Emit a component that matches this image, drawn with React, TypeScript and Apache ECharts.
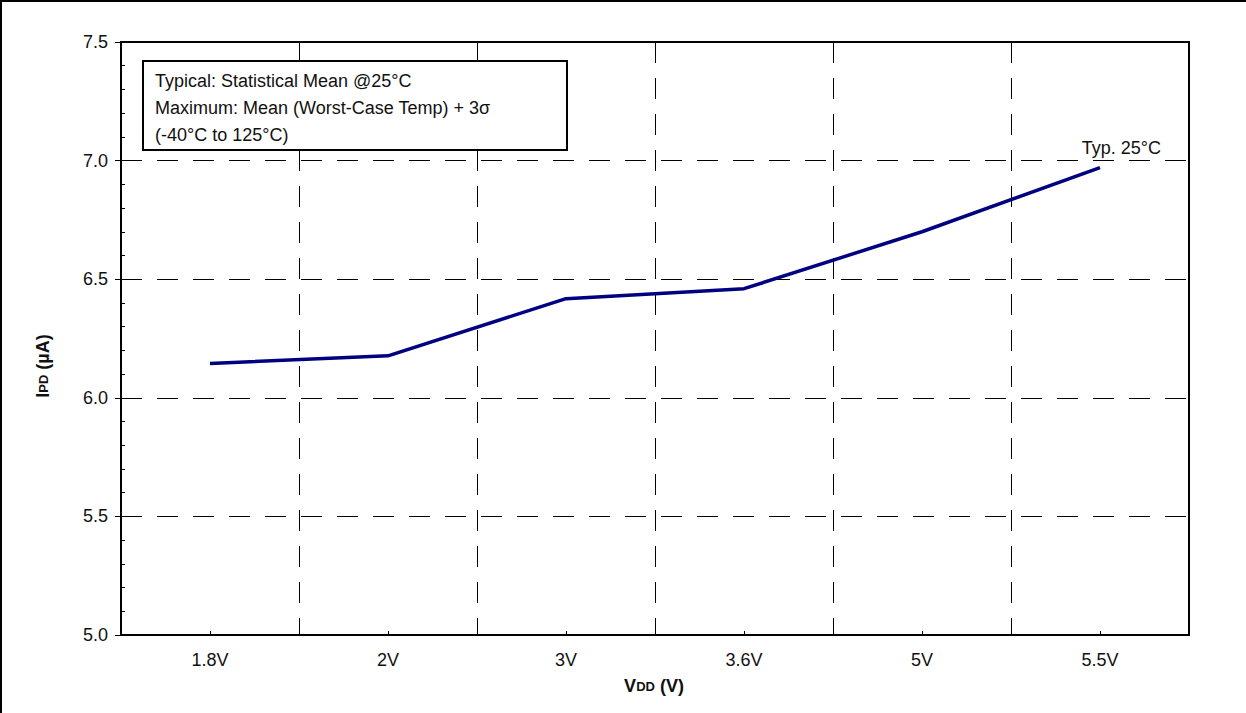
import React, { useEffect, useRef } from "react";
import * as echarts from "echarts";

const categories = ["1.8V", "2V", "3V", "3.6V", "5V", "5.5V"];
const typValues = [6.145, 6.177, 6.418, 6.46, 6.70, 6.97];
const yMin = 5.0;
const yMax = 7.5;
const yInterval = 0.5;
const noteLines = [
  "Typical: Statistical Mean @25°C",
  "Maximum: Mean (Worst-Case Temp) + 3σ",
  "(-40°C to 125°C)",
];
const seriesLabel = "Typ. 25°C";

const FONT = "Liberation Sans, Arial, sans-serif";
const dash = [21, 15];
const TXT = "#111";

export default function App() {
  const ref = useRef<HTMLDivElement>(null);
  useEffect(() => {
    if (!ref.current) return;
    const chart = echarts.init(ref.current, null, { renderer: "svg" });
    const rich = {
      a: { fontSize: 18, fontWeight: "bold", fontFamily: FONT, fill: TXT, color: TXT },
      b: { fontSize: 13, fontWeight: "bold", fontFamily: FONT, fill: TXT, color: TXT },
    };
    chart.setOption({
      animation: false,
      backgroundColor: "#fff",
      textStyle: { fontFamily: FONT },
      grid: {
        left: 121,
        top: 42,
        width: 1068,
        height: 593,
        show: true,
        borderColor: "#000",
        borderWidth: 2,
        backgroundColor: "transparent",
        z: 10,
      },
      xAxis: {
        type: "category",
        data: categories,
        boundaryGap: true,
        axisLine: { show: true, lineStyle: { color: "#000", width: 2 } },
        axisTick: { show: true, inside: true, length: 4, alignWithLabel: true, lineStyle: { color: "#000", width: 1 } },
        axisLabel: { color: TXT, fontSize: 18, fontFamily: FONT, margin: 16 },
        splitLine: { show: true, showMinLine: false, showMaxLine: false, lineStyle: { color: "#000", width: 1, type: dash } },
      },
      yAxis: [
        {
          type: "value",
          min: yMin,
          max: yMax,
          interval: yInterval,
          position: "left",
          axisLine: { show: true, lineStyle: { color: "#000", width: 2 } },
          axisTick: { show: true, inside: false, length: 6, lineStyle: { color: "#000", width: 1 } },
          axisLabel: { color: TXT, fontSize: 18, fontFamily: FONT, margin: 13, formatter: (v: number) => v.toFixed(1) },
          splitLine: { show: true, showMinLine: false, showMaxLine: false, lineStyle: { color: "#000", width: 1, type: dash } },
        },
        {
          type: "value",
          min: yMin,
          max: yMax,
          interval: 0.1,
          position: "left",
          axisLine: { show: false },
          axisTick: { show: true, inside: true, length: 4, lineStyle: { color: "#000", width: 1 } },
          axisLabel: { show: false },
          splitLine: { show: false },
        },
      ],
      series: [
        {
          type: "line",
          data: typValues,
          yAxisIndex: 0,
          symbol: "none",
          lineStyle: { color: "#000080", width: 3.5 },
          itemStyle: { color: "#000080" },
          z: 3,
        },
      ],
      graphic: [
        { type: "line", shape: { x1: 0, y1: 1, x2: 1246, y2: 1 }, style: { stroke: "#000", lineWidth: 2 }, z: 100 },
        { type: "line", shape: { x1: 1, y1: 0, x2: 1, y2: 713 }, style: { stroke: "#000", lineWidth: 2 }, z: 100 },
        {
          type: "rect",
          shape: { x: 143, y: 61, width: 424, height: 89 },
          style: { fill: "#fff", stroke: "#000", lineWidth: 2 },
          z: 50,
        },
        ...noteLines.map((t, i) => ({
          type: "text",
          x: 155,
          y: 81 + i * 27,
          z: 51,
          style: {
            text: t,
            fill: TXT,
            fontSize: 18,
            fontFamily: FONT,
            verticalAlign: "middle",
            align: "left",
          },
        })),
        {
          type: "text",
          x: 1161,
          y: 148,
          z: 51,
          style: {
            text: seriesLabel,
            fill: TXT,
            fontSize: 18,
            fontFamily: FONT,
            align: "right",
            verticalAlign: "middle",
          },
        },
        {
          type: "text",
          x: 654,
          y: 686,
          z: 51,
          style: {
            text: "{a|V}{b|DD}{a| (V)}",
            align: "center",
            verticalAlign: "middle",
            rich,
          },
        },
        {
          type: "text",
          x: 43,
          y: 366,
          rotation: Math.PI / 2,
          z: 51,
          style: {
            text: "{a|I}{b|PD}{a| (µA)}",
            align: "center",
            verticalAlign: "middle",
            rich,
          },
        },
      ],
    });
    return () => chart.dispose();
  }, []);
  return (
    <div
      ref={ref}
      style={{ position: "fixed", left: 0, top: 0, width: 1246, height: 713, background: "#fff" }}
    />
  );
}
